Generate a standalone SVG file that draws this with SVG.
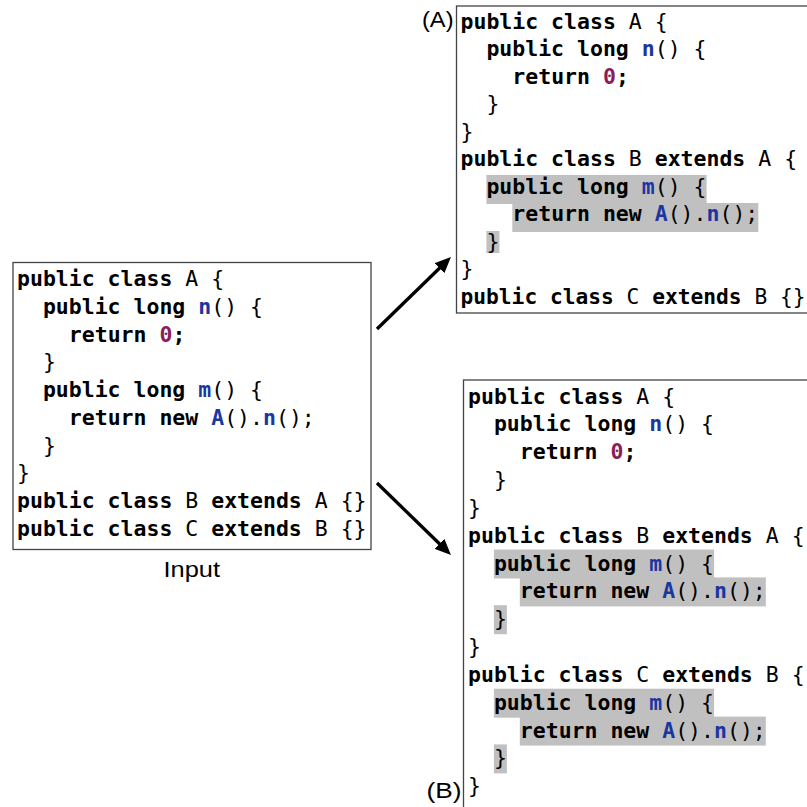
<svg xmlns="http://www.w3.org/2000/svg" width="807" height="807" viewBox="0 0 807 807">
  <style>
    .code { font-family: "DejaVu Sans Mono", "Liberation Mono", monospace; font-size: 21.5px; fill: #000; }
    .k { font-weight: bold; }
    .p { font-weight: normal; }
    .id { font-weight: bold; fill: #1c36a0; }
    .num { font-weight: bold; fill: #8c1c5c; }
    .box { fill: #fff; stroke: #444; stroke-width: 1.3; }
    .hl { fill: #c0c0c0; }
    .lbl { font-family: "Liberation Sans", Arial, sans-serif; font-size: 22px; fill: #000; }
    .arrow { stroke: #000; stroke-width: 3.3; fill: none; marker-end: url(#ah); }
  </style>
  <defs>
    <marker id="ah" viewBox="0 0 16 14" refX="6" refY="7" markerWidth="16" markerHeight="14" orient="auto" markerUnits="userSpaceOnUse">
      <path d="M0,0 L16,7 L0,14 z" fill="#000"/>
    </marker>
  </defs>

  <!-- input program -->
  <g id="input">
    <rect class="box" x="13" y="262.5" width="358" height="287"/>
    <g class="code">
      <text x="17" y="286"><tspan class="k">public class</tspan> <tspan class="p">A {</tspan></text>
      <text x="42.9" y="313.75"><tspan class="k">public long</tspan> <tspan class="id">n</tspan><tspan class="p">() {</tspan></text>
      <text x="68.8" y="341.5"><tspan class="k">return</tspan> <tspan class="num">0</tspan><tspan class="k">;</tspan></text>
      <text x="42.9" y="369.25"><tspan class="p">}</tspan></text>
      <text x="42.9" y="397"><tspan class="k">public long</tspan> <tspan class="id">m</tspan><tspan class="p">() {</tspan></text>
      <text x="68.8" y="424.75"><tspan class="k">return new</tspan> <tspan class="id">A</tspan><tspan class="p">().</tspan><tspan class="id">n</tspan><tspan class="p">();</tspan></text>
      <text x="42.9" y="452.5"><tspan class="p">}</tspan></text>
      <text x="17" y="480.25"><tspan class="p">}</tspan></text>
      <text x="17" y="508"><tspan class="k">public class</tspan> <tspan class="p">B</tspan> <tspan class="k">extends</tspan> <tspan class="p">A {}</tspan></text>
      <text x="17" y="535.75"><tspan class="k">public class</tspan> <tspan class="p">C</tspan> <tspan class="k">extends</tspan> <tspan class="p">B {}</tspan></text>
    </g>
    <text class="lbl" x="163.5" y="577" font-size="23" textLength="56.5" lengthAdjust="spacingAndGlyphs">Input</text>
  </g>

  <!-- result (A) -->
  <g id="resultA">
    <rect class="box" x="456.5" y="6" width="380" height="307"/>
    <rect class="hl" x="486.4" y="175" width="220.2" height="29"/>
    <rect class="hl" x="512.3" y="203" width="246" height="29"/>
    <rect class="hl" x="486.4" y="231" width="13" height="22"/>
    <g class="code">
      <text x="460.5" y="28.5"><tspan class="k">public class</tspan> <tspan class="p">A {</tspan></text>
      <text x="486.4" y="56"><tspan class="k">public long</tspan> <tspan class="id">n</tspan><tspan class="p">() {</tspan></text>
      <text x="512.3" y="83.5"><tspan class="k">return</tspan> <tspan class="num">0</tspan><tspan class="k">;</tspan></text>
      <text x="486.4" y="111"><tspan class="p">}</tspan></text>
      <text x="460.5" y="138.5"><tspan class="p">}</tspan></text>
      <text x="460.5" y="166"><tspan class="k">public class</tspan> <tspan class="p">B</tspan> <tspan class="k">extends</tspan> <tspan class="p">A {</tspan></text>
      <text x="486.4" y="193.5"><tspan class="k">public long</tspan> <tspan class="id">m</tspan><tspan class="p">() {</tspan></text>
      <text x="512.3" y="221"><tspan class="k">return new</tspan> <tspan class="id">A</tspan><tspan class="p">().</tspan><tspan class="id">n</tspan><tspan class="p">();</tspan></text>
      <text x="486.4" y="248.5"><tspan class="p">}</tspan></text>
      <text x="460.5" y="276"><tspan class="p">}</tspan></text>
      <text x="460.5" y="303.5" textLength="345" lengthAdjust="spacingAndGlyphs"><tspan class="k">public class</tspan> <tspan class="p">C</tspan> <tspan class="k">extends</tspan> <tspan class="p">B {}</tspan></text>
    </g>
    <text class="lbl" x="422" y="27" font-size="21" textLength="31.5" lengthAdjust="spacingAndGlyphs">(A)</text>
  </g>

  <!-- result (B) -->
  <g id="resultB">
    <rect class="box" x="463.5" y="380" width="380" height="460"/>
    <rect class="hl" x="493.9" y="549.5" width="220.2" height="29"/>
    <rect class="hl" x="519.8" y="577.4" width="246" height="29"/>
    <rect class="hl" x="493.9" y="605.2" width="13" height="29"/>
    <rect class="hl" x="493.9" y="688.7" width="220.2" height="29"/>
    <rect class="hl" x="519.8" y="716.6" width="246" height="29"/>
    <rect class="hl" x="493.9" y="744.4" width="13" height="29"/>
    <g class="code">
      <text x="468" y="403.5"><tspan class="k">public class</tspan> <tspan class="p">A {</tspan></text>
      <text x="493.9" y="431.34"><tspan class="k">public long</tspan> <tspan class="id">n</tspan><tspan class="p">() {</tspan></text>
      <text x="519.8" y="459.18"><tspan class="k">return</tspan> <tspan class="num">0</tspan><tspan class="k">;</tspan></text>
      <text x="493.9" y="487.02"><tspan class="p">}</tspan></text>
      <text x="468" y="514.86"><tspan class="p">}</tspan></text>
      <text x="468" y="542.7"><tspan class="k">public class</tspan> <tspan class="p">B</tspan> <tspan class="k">extends</tspan> <tspan class="p">A {</tspan></text>
      <text x="493.9" y="570.54"><tspan class="k">public long</tspan> <tspan class="id">m</tspan><tspan class="p">() {</tspan></text>
      <text x="519.8" y="598.38"><tspan class="k">return new</tspan> <tspan class="id">A</tspan><tspan class="p">().</tspan><tspan class="id">n</tspan><tspan class="p">();</tspan></text>
      <text x="493.9" y="626.22"><tspan class="p">}</tspan></text>
      <text x="468" y="654.06"><tspan class="p">}</tspan></text>
      <text x="468" y="681.9"><tspan class="k">public class</tspan> <tspan class="p">C</tspan> <tspan class="k">extends</tspan> <tspan class="p">B {</tspan></text>
      <text x="493.9" y="709.74"><tspan class="k">public long</tspan> <tspan class="id">m</tspan><tspan class="p">() {</tspan></text>
      <text x="519.8" y="737.58"><tspan class="k">return new</tspan> <tspan class="id">A</tspan><tspan class="p">().</tspan><tspan class="id">n</tspan><tspan class="p">();</tspan></text>
      <text x="493.9" y="765.42"><tspan class="p">}</tspan></text>
      <text x="468" y="793.26"><tspan class="p">}</tspan></text>
    </g>
    <text class="lbl" x="426.5" y="798" font-size="23" textLength="35" lengthAdjust="spacingAndGlyphs">(B)</text>
  </g>

  <!-- connectors -->
  <g id="connectors">
    <line class="arrow" x1="377" y1="329" x2="443.8" y2="264"/>
    <line class="arrow" x1="377" y1="483" x2="443.8" y2="548"/>
  </g>
</svg>
